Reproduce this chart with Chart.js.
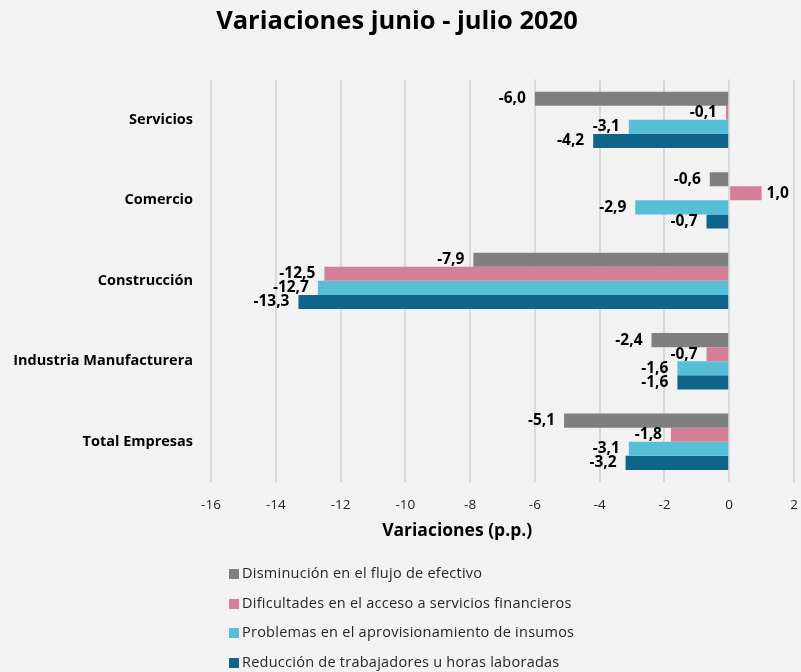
<!DOCTYPE html>
<html>
<head>
<meta charset="utf-8">
<script src="https://cdn.jsdelivr.net/npm/chart.js@4"></script>
<style>
  html, body { margin: 0; padding: 0; background: #f2f2f2; }
  #wrap { position: relative; width: 801px; height: 672px; }
  #legend { position: absolute; left: 229px; top: 558px; font-family: "Open Sans", sans-serif; font-size: 14.5px; letter-spacing: 0.25px; color: #262626; }
  #legend div { height: 29.7px; line-height: 30px; white-space: nowrap; }
  #legend span { display: inline-block; width: 10px; height: 10px; margin-right: 3px; vertical-align: -1px; }
</style>
</head>
<body>
<div id="wrap">
  <canvas id="chart" width="801" height="672"></canvas>
  <div id="legend"></div>
</div>
<script>
// ─────────────── DATA ───────────────
const categories = ['Servicios', 'Comercio', 'Construcción', 'Industria Manufacturera', 'Total Empresas'];
const flujoEfectivo = [-6.0, -0.6, -7.9, -2.4, -5.1];
const accesoFinanciero = [-0.1, 1.0, -12.5, -0.7, -1.8];
const aprovisionamiento = [-3.1, -2.9, -12.7, -1.6, -3.1];
const reduccionTrabajo = [-4.2, -0.7, -13.3, -1.6, -3.2];
const seriesNames = [
    'Disminución en el flujo de efectivo',
    'Dificultades en el acceso a servicios financieros',
    'Problemas en el aprovisionamiento de insumos',
    'Reducción de trabajadores u horas laboradas'
];
const seriesColors = ['#7f7f7f', '#d47f98', '#56bed6', '#0f6589'];

const FONT = '"Open Sans", "Noto Sans", sans-serif';

// value labels next to each bar end
const barLabels = {
    id: 'barLabels',
    afterDatasetsDraw(chart) {
        const ctx = chart.ctx;
        ctx.save();
        ctx.font = `bold 15.5px ${FONT}`;
        ctx.fillStyle = '#000';
        ctx.textBaseline = 'middle';
        chart.data.datasets.forEach((ds, i) => {
            chart.getDatasetMeta(i).data.forEach((bar, j) => {
                const v = ds.data[j];
                const txt = v.toFixed(1).replace('.', ',');
                if (v < 0) {
                    ctx.textAlign = 'right';
                    ctx.fillText(txt, bar.x - 9, bar.y);
                } else {
                    ctx.textAlign = 'left';
                    ctx.fillText(txt, bar.x + 5, bar.y);
                }
            });
        });
        ctx.restore();
    }
};

// x axis title
const axisTitle = {
    id: 'axisTitle',
    afterDraw(chart) {
        const ctx = chart.ctx;
        const xs = chart.scales.x;
        ctx.save();
        ctx.font = `bold 17.5px ${FONT}`;
        ctx.fillStyle = '#000';
        ctx.textAlign = 'center';
        ctx.textBaseline = 'middle';
        ctx.fillText('Variaciones (p.p.)', xs.getPixelForValue(-8.4), 531);
        ctx.restore();
    }
};

const datasets = [flujoEfectivo, accesoFinanciero, aprovisionamiento, reduccionTrabajo].map((d, i) => ({
    label: seriesNames[i],
    data: d,
    backgroundColor: seriesColors[i],
    categoryPercentage: 0.7,
    barPercentage: 1.0
}));

new Chart(document.getElementById('chart'), {
    type: 'bar',
    data: { labels: categories, datasets: datasets },
    options: {
        indexAxis: 'y',
        responsive: false,
        animation: false,
        layout: { padding: { left: 0, right: 7, top: 0, bottom: 0 } },
        plugins: {
            legend: { display: false },
            tooltip: { enabled: false },
            title: {
                display: true,
                text: 'Variaciones junio - julio 2020',
                color: '#000',
                font: { family: FONT, size: 25.5, weight: 'bold' },
                padding: { top: 6, bottom: 43 }
            }
        },
        scales: {
            x: {
                min: -16,
                max: 2,
                ticks: { stepSize: 2, color: '#222', font: { family: FONT, size: 13.5 }, padding: 15 },
                grid: { color: '#d9d9d9', lineWidth: 2, drawTicks: false },
                border: { display: false },
                afterFit(scale) {
                    scale.height = 190;
                    scale.paddingLeft = 0;
                    scale.paddingRight = 0;
                }
            },
            y: {
                ticks: { color: '#000', font: { family: FONT, size: 14.5, weight: 'bold' }, padding: 10 },
                grid: { display: false },
                border: { display: false },
                afterFit(scale) { scale.width = 211; }
            }
        }
    },
    plugins: [barLabels, axisTitle]
});

// HTML legend, one entry per row
const legendEl = document.getElementById('legend');
seriesNames.forEach((name, i) => {
    const row = document.createElement('div');
    row.innerHTML = `<span style="background:${seriesColors[i]}"></span>${name}`;
    legendEl.appendChild(row);
});
</script>
</body>
</html>
